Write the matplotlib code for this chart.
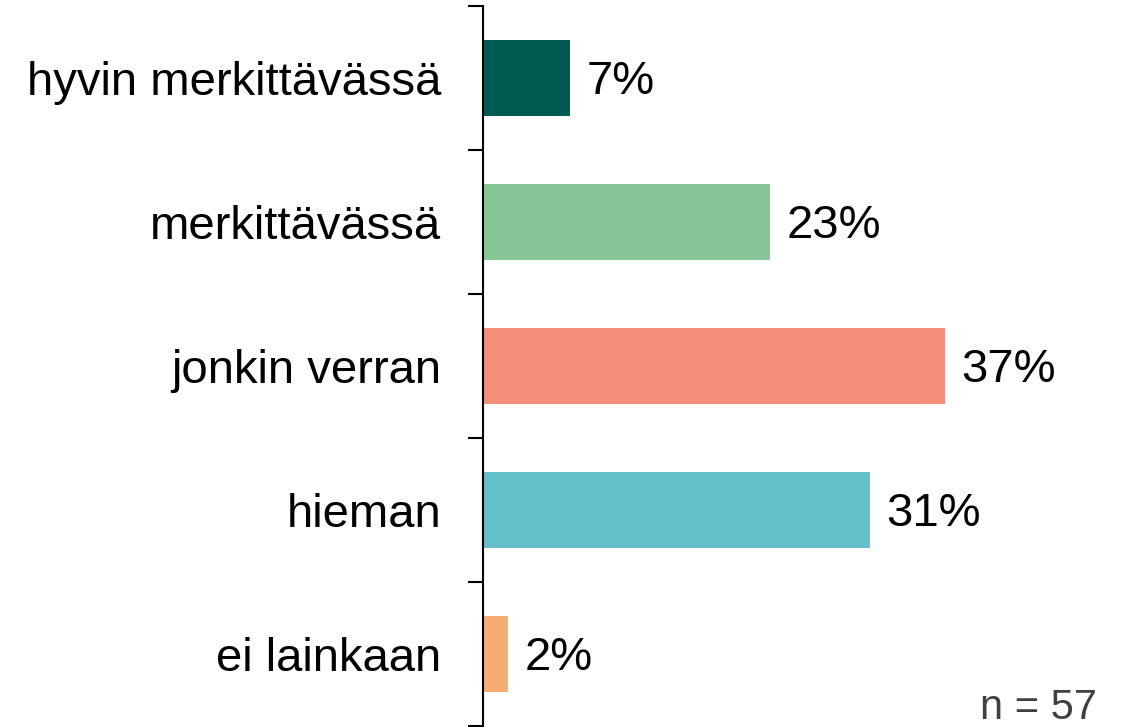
import matplotlib.pyplot as plt
import numpy as np

plt.rcParams['font.family'] = ['Liberation Sans', 'DejaVu Sans']

categories = ['hyvin merkittävässä', 'merkittävässä', 'jonkin verran', 'hieman', 'ei lainkaan']
values = [7, 23, 37, 31, 2]
colors = ['#005a52', '#88c597', '#f28e7a', '#64c1cb', '#f6ad73']
n_total = 57

fig = plt.figure(figsize=(11.22, 7.27), dpi=100)
ax = fig.add_axes([483 / 1122, 1 / 727, 620 / 1122, 720 / 727])

y = np.arange(len(categories))
ax.barh(y, values, height=0.53, color=colors)
for yi, v in zip(y, values):
    ax.text(v + 1.3, yi + 0.03, f'{v}%', va='center', ha='left', fontsize=34)

ax.set_ylim(len(categories) - 0.5, -0.5)
ax.set_xlim(0, 620 / 12.49)
ax.set_yticks(y)
ax.set_yticklabels(categories, fontsize=34)
ax.set_yticks(np.arange(-0.5, len(categories)), minor=True)
ax.tick_params(axis='y', which='major', length=0, pad=30)
ax.tick_params(axis='y', which='minor', length=11, width=1.5)
ax.set_xticks([])
for s in ['top', 'right', 'bottom']:
    ax.spines[s].set_visible(False)
ax.spines['left'].set_linewidth(1.5)

fig.text(1097 / 1122, 19 / 727, f'n = {n_total}', ha='right', va='center',
         fontsize=30, color='#404040')

fig.savefig('out.png', dpi=100)
